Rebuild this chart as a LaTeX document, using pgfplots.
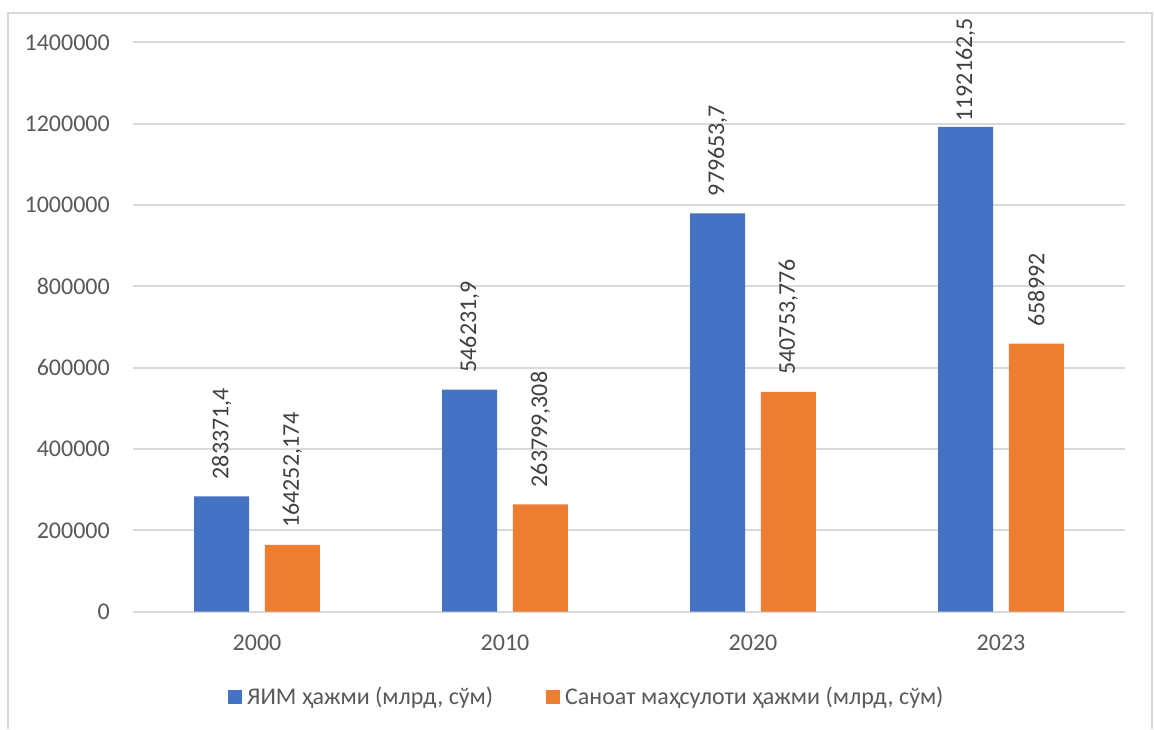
\documentclass[border=0pt]{standalone}
\usepackage{pgfplots}
\usepackage{pgfplotstable}
\pgfplotsset{compat=1.18}
\usepackage{fontspec}
\setmainfont{Carlito}

\definecolor{barblue}{HTML}{4472C4}
\definecolor{barorange}{HTML}{ED7D31}
\definecolor{gridgray}{HTML}{D9D9D9}
\definecolor{txtgray}{HTML}{595959}
\definecolor{lblgray}{HTML}{404040}
\newcommand\chartfont{\fontsize{24}{29}\selectfont}

% x = category index, label = value as printed, gap = space between bar and label (pt)
\pgfplotstableread{
x y label gap
0 283371.4 283371,4 17
1 546231.9 546231,9 17
2 979653.7 979653,7 17
3 1192162.5 1192162,5 5
}\gdptable
\pgfplotstableread{
x y label gap
0 164252.174 164252,174 17
1 263799.308 263799,308 17
2 540753.776 540753,776 17
3 658992 658992 17
}\indtable

\begin{document}
\begin{tikzpicture}
\useasboundingbox (0pt,0pt) rectangle (1154pt,729pt);
\begin{axis}[
  scale only axis,
  width=992pt, height=569.4pt,
  at={(133pt,117.3pt)}, anchor=south west,
  xmin=-0.5, xmax=3.5,
  ymin=0, ymax=1400000,
  xtick={0,1,2,3},
  xticklabels={2000,2010,2020,2023},
  ytick={0,200000,...,1400000},
  scaled y ticks=false,
  /pgf/number format/.cd, fixed, 1000 sep={}, assume math mode=true,
  /pgfplots/.cd,
  axis line style={draw=none},
  major tick length=0pt,
  ymajorgrids,
  grid style={gridgray, line width=2pt},
  tick label style={font=\chartfont, text=txtgray, inner sep=0pt},
  yticklabel style={anchor=east, xshift=-23pt},
  xticklabel style={anchor=north, yshift=-23pt},
  ybar, bar width=0.222,
  point meta=explicit symbolic,
  nodes near coords,
  visualization depends on={\thisrow{gap} \as \labelgap},
  nodes near coords style={font=\chartfont, text=lblgray, rotate=90,
    anchor=west, inner ysep=0pt, inner xsep=\labelgap pt},
  legend columns=2,
  legend style={at={(0.0958,-0.1493)}, anchor=west, draw=none, fill=none,
    inner sep=0pt, font=\chartfont, text=txtgray,
    nodes={inner sep=0pt},
    /tikz/every odd column/.append style={column sep=5pt},
    /tikz/every even column/.append style={column sep=53pt}},
  legend image code/.code={\fill[#1] (0pt,-7pt) rectangle (14pt,7pt);},
]
\addplot[fill=barblue, draw=none, bar shift=-0.1425]
  table[x=x, y=y, meta=label] {\gdptable};
\addlegendentry{ЯИМ ҳажми (млрд, сўм)}
\addplot[fill=barorange, draw=none, bar shift=0.1425]
  table[x=x, y=y, meta=label] {\indtable};
\addlegendentry{Саноат маҳсулоти ҳажми (млрд, сўм)}
\end{axis}
\draw[gridgray, line width=2pt] (8pt,0pt) -- (8pt,716pt) -- (1152pt,716pt) -- (1152pt,0pt);
\end{tikzpicture}
\end{document}
